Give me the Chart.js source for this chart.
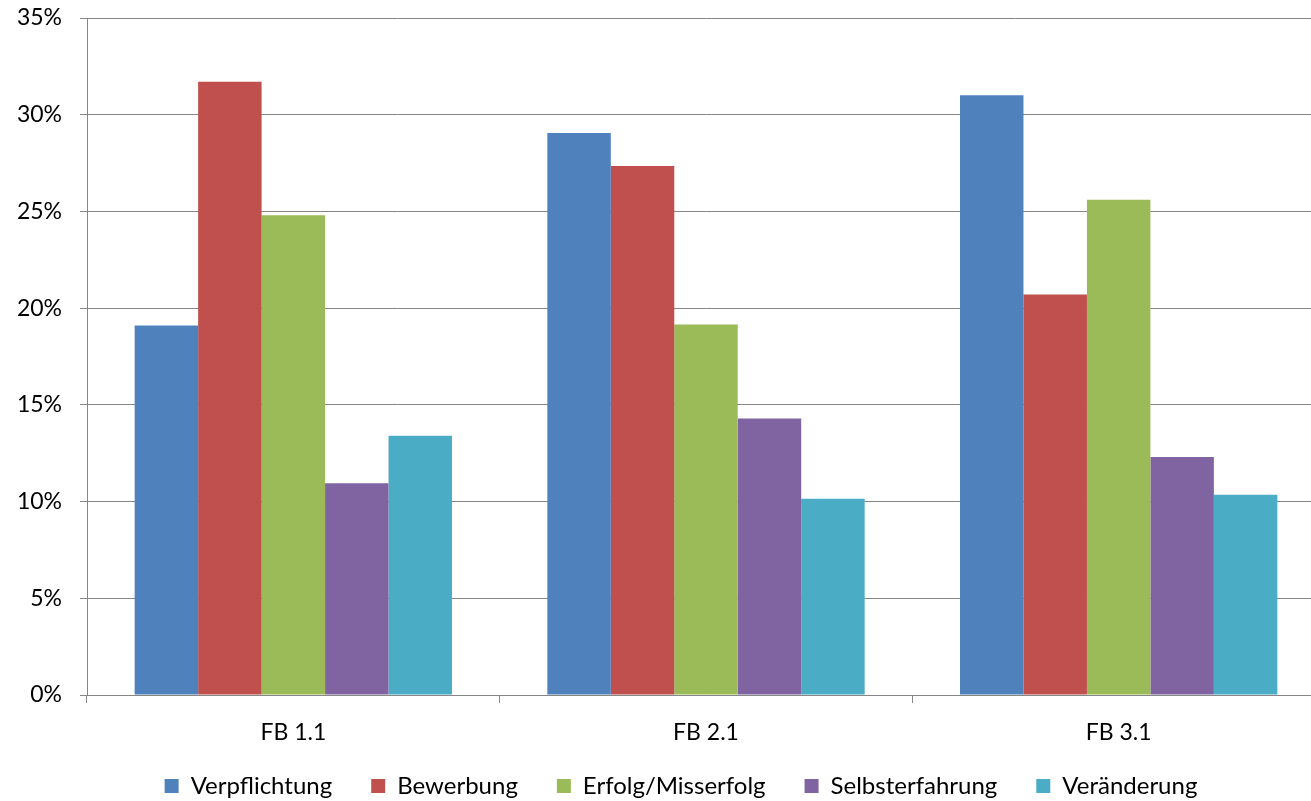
<!DOCTYPE html>
<html>
<head>
<meta charset="utf-8">
<script src="https://cdn.jsdelivr.net/npm/chart.js@4/dist/chart.umd.min.js"></script>
<style>
  html, body { margin: 0; padding: 0; background: #ffffff; overflow: hidden; }
  #wrap { width: 1362px; height: 801px; }
</style>
</head>
<body>
<div id="wrap"><canvas id="chart" width="1362" height="801"></canvas></div>
<script>
// Categories and series shares (percent)
const categories = ['FB 1.1', 'FB 2.1', 'FB 3.1'];
const verpflichtung = [19.1, 29.05, 31.0];
const bewerbung = [31.7, 27.35, 20.7];
const erfolgMisserfolg = [24.8, 19.15, 25.6];
const selbsterfahrung = [10.95, 14.3, 12.3];
const veraenderung = [13.4, 10.15, 10.35];
const yTicks = [0, 5, 10, 15, 20, 25, 30, 35];

const seriesNames = ['Verpflichtung', 'Bewerbung', 'Erfolg/Misserfolg', 'Selbsterfahrung', 'Veränderung'];
const seriesValues = [verpflichtung, bewerbung, erfolgMisserfolg, selbsterfahrung, veraenderung];
const seriesColors = ['#4F81BD', '#C0504D', '#9BBB59', '#8064A2', '#4BACC6'];

const axisGrey = '#868686';
const fontFamily = 'Lato, "Liberation Sans", sans-serif';

// Pull the legend row a little closer to the category labels and give
// its box enough height so the row is not clipped.
const legendLift = {
  id: 'legendLift',
  afterLayout(chart) {
    const lg = chart.legend;
    if (lg) {
      lg.top -= 12;
      lg.height = 80;
      lg.bottom = lg.top + lg.height;
    }
  }
};

new Chart(document.getElementById('chart'), {
  type: 'bar',
  data: {
    labels: categories,
    datasets: seriesNames.map((name, i) => ({
      label: name,
      data: seriesValues[i],
      backgroundColor: seriesColors[i],
      borderWidth: 0,
      categoryPercentage: 0.769,
      barPercentage: 1.0
    }))
  },
  plugins: [legendLift],
  options: {
    responsive: false,
    animation: false,
    layout: { padding: { top: 18, bottom: 4, left: 0, right: 0 } },
    plugins: {
      tooltip: { enabled: false },
      legend: {
        position: 'bottom',
        maxHeight: 50,
        labels: {
          boxWidth: 14,
          boxHeight: 14,
          padding: 39,
          color: '#000000',
          font: { family: fontFamily, size: 24 }
        }
      }
    },
    scales: {
      x: {
        grid: {
          offset: true,
          drawOnChartArea: false,
          drawTicks: true,
          tickLength: 8,
          color: axisGrey,
          lineWidth: 1
        },
        border: { color: axisGrey, width: 1 },
        ticks: {
          color: '#000000',
          padding: 16,
          font: { family: fontFamily, size: 23 }
        },
        afterFit(scale) { scale.height = 52; }
      },
      y: {
        min: 0,
        max: 35,
        afterBuildTicks(scale) { scale.ticks = yTicks.map(v => ({ value: v })); },
        grid: {
          color: axisGrey,
          lineWidth: 1,
          drawTicks: true,
          tickLength: 7
        },
        border: { color: axisGrey, width: 1 },
        ticks: {
          color: '#000000',
          padding: 18,
          font: { family: fontFamily, size: 23 },
          callback: (v) => v + '%'
        },
        afterFit(scale) {
          scale.width = 87;
          scale.paddingTop = 0;
          scale.paddingBottom = 0;
        }
      },
      yRight: {
        position: 'right',
        display: true,
        grid: { display: false },
        border: { display: false },
        ticks: { display: false },
        afterFit(scale) { scale.width = 37; }
      }
    }
  }
});
</script>
</body>
</html>
